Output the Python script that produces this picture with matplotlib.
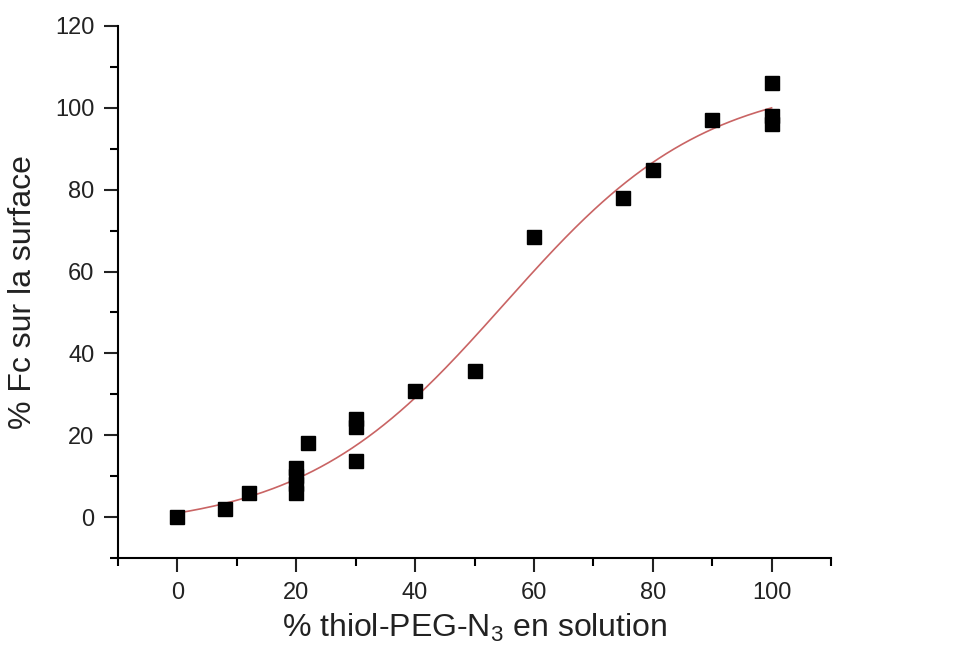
import numpy as np
import matplotlib
matplotlib.use("Agg")
import matplotlib.pyplot as plt
from matplotlib.ticker import MultipleLocator

plt.rcParams['font.family'] = ['Liberation Sans', 'DejaVu Sans']
plt.rcParams['mathtext.fontset'] = 'custom'
plt.rcParams['mathtext.rm'] = 'Liberation Sans'
plt.rcParams['mathtext.it'] = 'Liberation Sans'

# measured points (% thiol-PEG-N3 in solution vs % Fc on surface)
peg_pct = [0, 8, 12, 20, 20, 20, 20, 22, 30, 30, 30, 40, 50, 60, 75, 80, 90, 100, 100, 100]
fc_pct = [0, 2, 6, 6, 8, 10, 12, 18, 24, 22, 13.6, 30.7, 35.6, 68.5, 78, 84.7, 97, 106, 98, 96]

# sigmoidal (Boltzmann) fit parameters
A1, A2, X0, DX = -3.2, 107.3, 55.0, 17.0

fig = plt.figure(figsize=(9.69, 6.48), dpi=100)
ax = fig.add_axes([0.1218, 0.1389, 0.7358, 0.8210])

xfit = np.linspace(0, 100, 300)
yfit = A2 + (A1 - A2) / (1 + np.exp((xfit - X0) / DX))
ax.plot(xfit, yfit, color='#c96464', lw=1.2, zorder=2)
ax.plot(peg_pct, fc_pct, 's', color='black', markersize=10, zorder=3)

ax.set_xlim(-10, 110)
ax.set_ylim(-10, 120)
ax.xaxis.set_major_locator(MultipleLocator(20))
ax.xaxis.set_minor_locator(MultipleLocator(10))
ax.yaxis.set_major_locator(MultipleLocator(20))
ax.yaxis.set_minor_locator(MultipleLocator(10))

for side in ['top', 'right']:
    ax.spines[side].set_visible(False)
for side in ['left', 'bottom']:
    ax.spines[side].set_linewidth(1.5)

ax.tick_params(which='major', length=10, width=1.5, labelsize=17, pad=7, colors='#222222')
ax.tick_params(which='minor', length=6, width=1.5)

ax.set_xlabel(r'% thiol-PEG-N$_3$ en solution', fontsize=23, labelpad=6, color='#222222')
ax.set_ylabel('% Fc sur la surface', fontsize=23, labelpad=12, color='#222222')

fig.savefig('out.png', dpi=100)
